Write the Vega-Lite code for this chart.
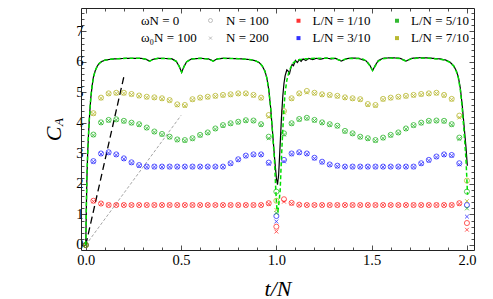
{
  "$schema": "https://vega.github.io/schema/vega-lite/v6.json",
  "width": 393,
  "height": 242,
  "autosize": {"type": "none"},
  "padding": {"left": 81, "top": 8, "right": 19, "bottom": 49},
  "background": "white",
  "datasets": {
    "pts": [
      {"t":0,"r1":0,"r2":0,"b1":0,"b2":0,"g1":0,"g2":0,"y1":0,"y2":0},
      {"t":0.04,"r1":1.45,"r2":1.43,"b1":2.75,"b2":2.73,"g1":3.62,"g2":3.6,"y1":4.32,"y2":4.3},
      {"t":0.08,"r1":1.36,"r2":1.35,"b1":3.0,"b2":2.98,"g1":4.02,"g2":4.0,"y1":4.83,"y2":4.81},
      {"t":0.12,"r1":1.31,"r2":1.31,"b1":3.04,"b2":3.02,"g1":4.1,"g2":4.08,"y1":4.97,"y2":4.95},
      {"t":0.16,"r1":1.31,"r2":1.31,"b1":2.97,"b2":2.95,"g1":4.12,"g2":4.1,"y1":4.99,"y2":4.97},
      {"t":0.2,"r1":1.31,"r2":1.31,"b1":2.84,"b2":2.82,"g1":4.07,"g2":4.05,"y1":4.99,"y2":4.97},
      {"t":0.24,"r1":1.31,"r2":1.31,"b1":2.71,"b2":2.69,"g1":4.01,"g2":3.99,"y1":4.95,"y2":4.93},
      {"t":0.28,"r1":1.31,"r2":1.31,"b1":2.62,"b2":2.6,"g1":3.96,"g2":3.94,"y1":4.9,"y2":4.88},
      {"t":0.32,"r1":1.31,"r2":1.31,"b1":2.57,"b2":2.56,"g1":3.85,"g2":3.83,"y1":4.86,"y2":4.84},
      {"t":0.36,"r1":1.31,"r2":1.31,"b1":2.57,"b2":2.56,"g1":3.72,"g2":3.7,"y1":4.84,"y2":4.82},
      {"t":0.4,"r1":1.31,"r2":1.31,"b1":2.57,"b2":2.56,"g1":3.64,"g2":3.62,"y1":4.81,"y2":4.79},
      {"t":0.44,"r1":1.31,"r2":1.31,"b1":2.57,"b2":2.56,"g1":3.55,"g2":3.53,"y1":4.75,"y2":4.73},
      {"t":0.48,"r1":1.31,"r2":1.31,"b1":2.57,"b2":2.56,"g1":3.46,"g2":3.44,"y1":4.61,"y2":4.58},
      {"t":0.52,"r1":1.31,"r2":1.31,"b1":2.57,"b2":2.56,"g1":3.44,"g2":3.42,"y1":4.59,"y2":4.56},
      {"t":0.56,"r1":1.31,"r2":1.31,"b1":2.57,"b2":2.56,"g1":3.5,"g2":3.48,"y1":4.78,"y2":4.76},
      {"t":0.6,"r1":1.31,"r2":1.31,"b1":2.57,"b2":2.56,"g1":3.61,"g2":3.59,"y1":4.83,"y2":4.81},
      {"t":0.64,"r1":1.31,"r2":1.31,"b1":2.57,"b2":2.56,"g1":3.69,"g2":3.67,"y1":4.86,"y2":4.84},
      {"t":0.68,"r1":1.31,"r2":1.31,"b1":2.57,"b2":2.56,"g1":3.82,"g2":3.8,"y1":4.89,"y2":4.87},
      {"t":0.72,"r1":1.31,"r2":1.31,"b1":2.57,"b2":2.56,"g1":3.93,"g2":3.91,"y1":4.92,"y2":4.9},
      {"t":0.76,"r1":1.31,"r2":1.31,"b1":2.68,"b2":2.66,"g1":3.99,"g2":3.97,"y1":4.94,"y2":4.92},
      {"t":0.8,"r1":1.31,"r2":1.31,"b1":2.81,"b2":2.79,"g1":4.04,"g2":4.02,"y1":4.97,"y2":4.95},
      {"t":0.84,"r1":1.31,"r2":1.31,"b1":2.93,"b2":2.91,"g1":4.09,"g2":4.07,"y1":4.97,"y2":4.95},
      {"t":0.88,"r1":1.31,"r2":1.31,"b1":2.97,"b2":2.95,"g1":4.08,"g2":4.06,"y1":4.92,"y2":4.9},
      {"t":0.92,"r1":1.31,"r2":1.31,"b1":2.97,"b2":2.95,"g1":3.96,"g2":3.94,"y1":4.83,"y2":4.81},
      {"t":0.96,"r1":1.37,"r2":1.35,"b1":2.7,"b2":2.66,"g1":3.55,"g2":3.5,"y1":4.26,"y2":4.2},
      {"t":1.0,"r1":0.6,"r2":0.44,"b1":0.95,"b2":0.77,"g1":1.75,"g2":1.05,"y1":1.45,"y2":1.15},
      {"t":1.04,"r1":1.5,"r2":1.42,"b1":2.79,"b2":2.74,"g1":3.66,"g2":3.62,"y1":4.39,"y2":4.34},
      {"t":1.08,"r1":1.38,"r2":1.36,"b1":3.0,"b2":2.98,"g1":3.99,"g2":3.97,"y1":4.81,"y2":4.79},
      {"t":1.12,"r1":1.32,"r2":1.31,"b1":3.04,"b2":3.02,"g1":4.13,"g2":4.11,"y1":4.97,"y2":4.95},
      {"t":1.16,"r1":1.31,"r2":1.31,"b1":3.0,"b2":2.98,"g1":4.17,"g2":4.15,"y1":5.05,"y2":5.0},
      {"t":1.2,"r1":1.31,"r2":1.31,"b1":2.86,"b2":2.84,"g1":4.1,"g2":4.08,"y1":4.99,"y2":4.97},
      {"t":1.24,"r1":1.31,"r2":1.31,"b1":2.73,"b2":2.71,"g1":4.02,"g2":4.0,"y1":4.94,"y2":4.92},
      {"t":1.28,"r1":1.31,"r2":1.31,"b1":2.64,"b2":2.62,"g1":3.96,"g2":3.94,"y1":4.92,"y2":4.9},
      {"t":1.32,"r1":1.31,"r2":1.31,"b1":2.6,"b2":2.58,"g1":3.91,"g2":3.89,"y1":4.89,"y2":4.87},
      {"t":1.36,"r1":1.31,"r2":1.31,"b1":2.57,"b2":2.56,"g1":3.74,"g2":3.72,"y1":4.84,"y2":4.82},
      {"t":1.4,"r1":1.31,"r2":1.31,"b1":2.57,"b2":2.56,"g1":3.66,"g2":3.64,"y1":4.81,"y2":4.79},
      {"t":1.44,"r1":1.31,"r2":1.31,"b1":2.57,"b2":2.56,"g1":3.55,"g2":3.53,"y1":4.78,"y2":4.76},
      {"t":1.48,"r1":1.31,"r2":1.31,"b1":2.57,"b2":2.56,"g1":3.5,"g2":3.48,"y1":4.62,"y2":4.59},
      {"t":1.52,"r1":1.31,"r2":1.31,"b1":2.57,"b2":2.56,"g1":3.44,"g2":3.42,"y1":4.59,"y2":4.56},
      {"t":1.56,"r1":1.31,"r2":1.31,"b1":2.57,"b2":2.56,"g1":3.52,"g2":3.5,"y1":4.79,"y2":4.77},
      {"t":1.6,"r1":1.31,"r2":1.31,"b1":2.57,"b2":2.56,"g1":3.61,"g2":3.59,"y1":4.83,"y2":4.81},
      {"t":1.64,"r1":1.31,"r2":1.31,"b1":2.57,"b2":2.56,"g1":3.69,"g2":3.67,"y1":4.86,"y2":4.84},
      {"t":1.68,"r1":1.31,"r2":1.31,"b1":2.57,"b2":2.56,"g1":3.82,"g2":3.8,"y1":4.89,"y2":4.87},
      {"t":1.72,"r1":1.31,"r2":1.31,"b1":2.57,"b2":2.56,"g1":3.93,"g2":3.91,"y1":4.92,"y2":4.9},
      {"t":1.76,"r1":1.31,"r2":1.31,"b1":2.68,"b2":2.66,"g1":4.01,"g2":3.99,"y1":4.95,"y2":4.93},
      {"t":1.8,"r1":1.31,"r2":1.31,"b1":2.79,"b2":2.77,"g1":4.07,"g2":4.05,"y1":4.97,"y2":4.95},
      {"t":1.84,"r1":1.31,"r2":1.31,"b1":2.9,"b2":2.88,"g1":4.08,"g2":4.06,"y1":4.99,"y2":4.97},
      {"t":1.88,"r1":1.31,"r2":1.31,"b1":2.97,"b2":2.95,"g1":4.07,"g2":4.05,"y1":4.92,"y2":4.9},
      {"t":1.92,"r1":1.31,"r2":1.31,"b1":2.95,"b2":2.93,"g1":3.96,"g2":3.94,"y1":4.79,"y2":4.77},
      {"t":1.96,"r1":1.37,"r2":1.35,"b1":2.68,"b2":2.64,"g1":3.52,"g2":3.48,"y1":4.24,"y2":4.18},
      {"t":2.0,"r1":0.72,"r2":0.5,"b1":1.31,"b2":0.93,"g1":1.75,"g2":1.2,"y1":2.11,"y2":1.44}
    ],
    "black": [
      {"t":0,"C":0},{"t":0.003,"C":1.2},{"t":0.006,"C":2.2},{"t":0.01,"C":3.0},{"t":0.015,"C":3.7},{"t":0.02,"C":4.25},{"t":0.026,"C":4.8},{"t":0.033,"C":5.2},{"t":0.04,"C":5.5},{"t":0.05,"C":5.72},{"t":0.06,"C":5.86},{"t":0.07,"C":5.95},{"t":0.085,"C":6.02},{"t":0.1,"C":6.06},{"t":0.13,"C":6.09},{"t":0.17,"C":6.11},{"t":0.22,"C":6.12},{"t":0.29,"C":6.12},{"t":0.315,"C":6.09},{"t":0.335,"C":6.03},{"t":0.355,"C":6.09},{"t":0.38,"C":6.12},{"t":0.45,"C":6.11},{"t":0.475,"C":6.02},{"t":0.49,"C":5.86},{"t":0.503,"C":5.66},{"t":0.516,"C":5.86},{"t":0.53,"C":6.01},{"t":0.555,"C":6.1},{"t":0.6,"C":6.12},{"t":0.645,"C":6.1},{"t":0.668,"C":6.03},{"t":0.69,"C":6.1},{"t":0.72,"C":6.12},{"t":0.8,"C":6.11},{"t":0.86,"C":6.08},{"t":0.89,"C":6.04},{"t":0.91,"C":5.98},{"t":0.925,"C":5.88},{"t":0.94,"C":5.7},{"t":0.95,"C":5.48},{"t":0.96,"C":5.1},{"t":0.97,"C":4.5},{"t":0.98,"C":3.7},{"t":0.99,"C":2.9},
      {"t":1.0,"C":2.2},{"t":1.006,"C":1.98},{"t":1.012,"C":2.3},{"t":1.02,"C":3.3},{"t":1.027,"C":4.2},{"t":1.034,"C":4.9},{"t":1.04,"C":5.3},{"t":1.046,"C":5.55},{"t":1.055,"C":5.74},{"t":1.062,"C":5.7},{"t":1.069,"C":5.62},{"t":1.076,"C":5.8},{"t":1.083,"C":5.92},{"t":1.09,"C":5.88},{"t":1.1,"C":6.05},{"t":1.11,"C":5.98},{"t":1.12,"C":6.08},{"t":1.13,"C":6.02},{"t":1.14,"C":6.1},{"t":1.155,"C":6.05},{"t":1.17,"C":6.12},{"t":1.19,"C":6.08},{"t":1.21,"C":6.12},{"t":1.23,"C":6.09},{"t":1.26,"C":6.13},{"t":1.29,"C":6.1},{"t":1.31,"C":6.12},{"t":1.34,"C":6.03},{"t":1.37,"C":6.11},{"t":1.4,"C":6.13},{"t":1.43,"C":6.12},{"t":1.47,"C":6.04},{"t":1.49,"C":5.9},{"t":1.505,"C":5.72},{"t":1.52,"C":5.9},{"t":1.535,"C":6.05},{"t":1.56,"C":6.12},{"t":1.6,"C":6.14},{"t":1.65,"C":6.12},{"t":1.68,"C":6.03},{"t":1.71,"C":6.12},{"t":1.75,"C":6.14},{"t":1.8,"C":6.13},{"t":1.86,"C":6.1},{"t":1.89,"C":6.06},{"t":1.91,"C":6.0},{"t":1.93,"C":5.88},{"t":1.945,"C":5.7},{"t":1.955,"C":5.5},{"t":1.965,"C":5.15},{"t":1.975,"C":4.6},{"t":1.985,"C":3.9},{"t":1.995,"C":3.2},{"t":2.002,"C":2.6}
    ],
    "green": [
      {"t":0,"C":0},{"t":0.003,"C":1.2},{"t":0.006,"C":2.2},{"t":0.01,"C":3.0},{"t":0.015,"C":3.7},{"t":0.02,"C":4.25},{"t":0.026,"C":4.8},{"t":0.033,"C":5.2},{"t":0.04,"C":5.5},{"t":0.05,"C":5.72},{"t":0.06,"C":5.86},{"t":0.07,"C":5.95},{"t":0.085,"C":6.02},{"t":0.1,"C":6.06},{"t":0.13,"C":6.09},{"t":0.17,"C":6.11},{"t":0.22,"C":6.12},{"t":0.29,"C":6.12},{"t":0.315,"C":6.09},{"t":0.335,"C":6.03},{"t":0.355,"C":6.09},{"t":0.38,"C":6.12},{"t":0.45,"C":6.11},{"t":0.475,"C":6.02},{"t":0.49,"C":5.86},{"t":0.503,"C":5.66},{"t":0.516,"C":5.86},{"t":0.53,"C":6.01},{"t":0.555,"C":6.1},{"t":0.6,"C":6.12},{"t":0.645,"C":6.1},{"t":0.668,"C":6.03},{"t":0.69,"C":6.1},{"t":0.72,"C":6.12},{"t":0.8,"C":6.11},{"t":0.86,"C":6.08},{"t":0.89,"C":6.04},{"t":0.91,"C":5.98},{"t":0.925,"C":5.88},{"t":0.94,"C":5.7},{"t":0.95,"C":5.48},{"t":0.96,"C":5.1},{"t":0.97,"C":4.5},{"t":0.98,"C":3.7},{"t":0.99,"C":2.8},
      {"t":0.997,"C":1.8},{"t":1.003,"C":1.15},{"t":1.008,"C":1.1},{"t":1.014,"C":1.4},{"t":1.02,"C":1.8},{"t":1.027,"C":2.9},{"t":1.034,"C":3.8},{"t":1.04,"C":4.5},{"t":1.046,"C":5.0},{"t":1.055,"C":5.4},{"t":1.065,"C":5.65},{"t":1.075,"C":5.82},{"t":1.09,"C":5.98},{"t":1.11,"C":6.06},{"t":1.14,"C":6.1},{"t":1.2,"C":6.12},{"t":1.3,"C":6.12},{"t":1.318,"C":6.09},{"t":1.34,"C":6.04},{"t":1.36,"C":6.09},{"t":1.39,"C":6.12},{"t":1.45,"C":6.11},{"t":1.475,"C":6.02},{"t":1.49,"C":5.88},{"t":1.505,"C":5.72},{"t":1.52,"C":5.88},{"t":1.535,"C":6.03},{"t":1.56,"C":6.11},{"t":1.6,"C":6.13},{"t":1.65,"C":6.11},{"t":1.68,"C":6.03},{"t":1.71,"C":6.11},{"t":1.75,"C":6.13},{"t":1.8,"C":6.12},{"t":1.86,"C":6.09},{"t":1.89,"C":6.05},{"t":1.91,"C":5.99},{"t":1.93,"C":5.87},{"t":1.945,"C":5.68},{"t":1.955,"C":5.47},{"t":1.965,"C":5.1},{"t":1.975,"C":4.5},{"t":1.985,"C":3.7},{"t":1.995,"C":2.8},{"t":2.0,"C":2.1},{"t":2.003,"C":1.65}
    ]
  },
  "resolve": {"axis": {"x": "independent", "y": "independent"}},
  "layer": [
    {
      "data": {"values": [{"t":0,"C":0},{"t":0.5,"C":4.25}]},
      "mark": {"type": "line", "color": "#9a9a9a", "strokeWidth": 0.9, "strokeDash": [3, 2], "clip": true},
      "encoding": {
        "x": {"field": "t", "type": "quantitative", "scale": {"domain": [-0.025, 2.037], "nice": false, "zero": false}, "axis": null},
        "y": {"field": "C", "type": "quantitative", "scale": {"domain": [-0.164, 7.77], "nice": false, "zero": false}, "axis": null}
      }
    },
    {
      "data": {"values": [{"t":0,"C":0},{"t":0.2,"C":5.52}]},
      "mark": {"type": "line", "color": "black", "strokeWidth": 1.3, "strokeDash": [7, 4], "clip": true},
      "encoding": {
        "x": {"field": "t", "type": "quantitative", "axis": null},
        "y": {"field": "C", "type": "quantitative", "axis": null}
      }
    },
    {
      "data": {"name": "pts"},
      "transform": [
        {"fold": ["r1","r2","b1","b2","g1","g2","y1","y2"], "as": ["key", "C"]},
        {"lookup": "key", "from": {"data": {"values": [
          {"key":"r1","LN":"L/N = 1/10","N":"N = 100"},
          {"key":"r2","LN":"L/N = 1/10","N":"N = 200"},
          {"key":"b1","LN":"L/N = 3/10","N":"N = 100"},
          {"key":"b2","LN":"L/N = 3/10","N":"N = 200"},
          {"key":"g1","LN":"L/N = 5/10","N":"N = 100"},
          {"key":"g2","LN":"L/N = 5/10","N":"N = 200"},
          {"key":"y1","LN":"L/N = 7/10","N":"N = 100"},
          {"key":"y2","LN":"L/N = 7/10","N":"N = 200"}
        ]}, "key": "key", "fields": ["LN", "N"]}}
      ],
      "mark": {"type": "point", "filled": false, "strokeWidth": 0.8, "opacity": 0.8, "size": 26, "clip": true},
      "encoding": {
        "x": {"field": "t", "type": "quantitative", "axis": null},
        "y": {"field": "C", "type": "quantitative",
          "axis": {"orient": "left", "labels": false, "ticks": false, "domain": false, "grid": false,
            "title": "A", "titleFont": "Times New Roman, Liberation Serif, serif", "titleFontStyle": "italic", "titleFontWeight": "normal", "titleFontSize": 13,
            "titleAngle": -90, "titleX": -18.5, "titleY": 113.5, "titleAlign": "center", "titleBaseline": "alphabetic"}},
        "color": {"field": "LN", "type": "nominal",
          "scale": {"domain": ["L/N = 1/10", "L/N = 3/10", "L/N = 5/10", "L/N = 7/10"], "range": ["#ff0000", "#0000ff", "#00a800", "#a8a800"]},
          "legend": {"orient": "none", "legendX": 211, "legendY": 6, "title": null, "columns": 2, "symbolType": "square", "symbolSize": 4, "symbolStrokeWidth": 2, "labelOffset": 7.5, "columnPadding": 19.5, "rowPadding": 3.6,
            "labelFont": "Times New Roman, Liberation Serif, serif", "labelFontSize": 13, "labelColor": "black"}},
        "shape": {"field": "N", "type": "nominal",
          "scale": {"domain": ["N = 100", "N = 200"], "range": ["circle", "M-0.75,-0.75L0.75,0.75M0.75,-0.75L-0.75,0.75"]},
          "legend": {"orient": "none", "legendX": 123, "legendY": 6, "title": null, "symbolSize": 16, "symbolStrokeColor": "#999999", "symbolStrokeWidth": 0.8, "labelOffset": 9, "rowPadding": 3.6,
            "labelFont": "Times New Roman, Liberation Serif, serif", "labelFontSize": 13, "labelColor": "black"}}
      }
    },
    {
      "data": {"name": "black"},
      "mark": {"type": "line", "color": "black", "strokeWidth": 1.2, "clip": true},
      "encoding": {
        "x": {"field": "t", "type": "quantitative",
          "axis": {"orient": "bottom", "values": [0,0.1,0.2,0.3,0.4,0.5,0.6,0.7,0.8,0.9,1,1.1,1.2,1.3,1.4,1.5,1.6,1.7,1.8,1.9,2],
            "labelExpr": "datum.value % 0.5 == 0 ? format(datum.value, '.1f') : ''",
            "tickSize": {"condition": {"test": "datum.value % 0.5 == 0", "value": -5}, "value": -3},
            "labelPadding": 8, "labelOverlap": false, "labelFlush": false,
            "labelFont": "Times New Roman, Liberation Serif, serif", "labelFontSize": 14.5, "labelColor": "black",
            "title": "t/N", "titleFont": "Times New Roman, Liberation Serif, serif", "titleFontStyle": "italic", "titleFontWeight": "normal", "titleFontSize": 22,
            "titleY": 45, "titleBaseline": "alphabetic"}},
        "y": {"field": "C", "type": "quantitative",
          "axis": {"orient": "left", "values": [0,0.2,0.4,0.6,0.8,1,1.2,1.4,1.6,1.8,2,2.2,2.4,2.6,2.8,3,3.2,3.4,3.6,3.8,4,4.2,4.4,4.6,4.8,5,5.2,5.4,5.6,5.8,6,6.2,6.4,6.6,6.8,7,7.2,7.4,7.6],
            "labelExpr": "datum.value % 1 == 0 ? format(datum.value, 'd') : ''",
            "tickSize": {"condition": {"test": "datum.value % 1 == 0", "value": -5}, "value": -3},
            "labelPadding": 3, "labelOverlap": false, "labelFlush": false,
            "labelFont": "Times New Roman, Liberation Serif, serif", "labelFontSize": 14.5, "labelColor": "black",
            "title": "C", "titleFont": "Times New Roman, Liberation Serif, serif", "titleFontStyle": "italic", "titleFontWeight": "normal", "titleFontSize": 22,
            "titleAngle": -90, "titleX": -20.5, "titleY": 125.5, "titleAlign": "center", "titleBaseline": "alphabetic"}},
        "strokeDash": {"datum": "ωN = 0", "type": "nominal",
          "scale": {"domain": ["ωN = 0", "ω₀N = 100"], "range": [[1, 0], [4, 2.5]]},
          "legend": {"orient": "none", "legendX": 47, "legendY": 6, "title": null, "symbolOpacity": 0, "symbolSize": 1, "labelOffset": 0, "rowPadding": 3.6,
            "labelFont": "Times New Roman, Liberation Serif, serif", "labelFontSize": 13, "labelColor": "black"}}
      }
    },
    {
      "data": {"name": "green"},
      "mark": {"type": "line", "color": "#00e000", "strokeWidth": 1.5, "clip": true},
      "encoding": {
        "x": {"field": "t", "type": "quantitative",
          "axis": {"orient": "top", "values": [0,0.1,0.2,0.3,0.4,0.5,0.6,0.7,0.8,0.9,1,1.1,1.2,1.3,1.4,1.5,1.6,1.7,1.8,1.9,2],
            "labels": false, "title": null,
            "tickSize": {"condition": {"test": "datum.value % 0.5 == 0", "value": -5}, "value": -3}}},
        "y": {"field": "C", "type": "quantitative",
          "axis": {"orient": "right", "values": [0,0.2,0.4,0.6,0.8,1,1.2,1.4,1.6,1.8,2,2.2,2.4,2.6,2.8,3,3.2,3.4,3.6,3.8,4,4.2,4.4,4.6,4.8,5,5.2,5.4,5.6,5.8,6,6.2,6.4,6.6,6.8,7,7.2,7.4,7.6],
            "labels": false, "title": null,
            "tickSize": {"condition": {"test": "datum.value % 1 == 0", "value": -5}, "value": -3}}},
        "strokeDash": {"datum": "ω₀N = 100", "type": "nominal"}
      }
    }
  ],
  "config": {
    "view": {"stroke": null},
    "axis": {"domainColor": "#222222", "domainWidth": 1, "tickColor": "#222222", "tickWidth": 0.8, "grid": false,
      "labelFont": "Times New Roman, Liberation Serif, serif", "labelFontSize": 14.5, "labelColor": "black", "titleColor": "black"},
    "legend": {"labelFont": "Times New Roman, Liberation Serif, serif", "labelFontSize": 13, "labelColor": "black", "padding": 0, "labelLimit": 200}
  }
}
